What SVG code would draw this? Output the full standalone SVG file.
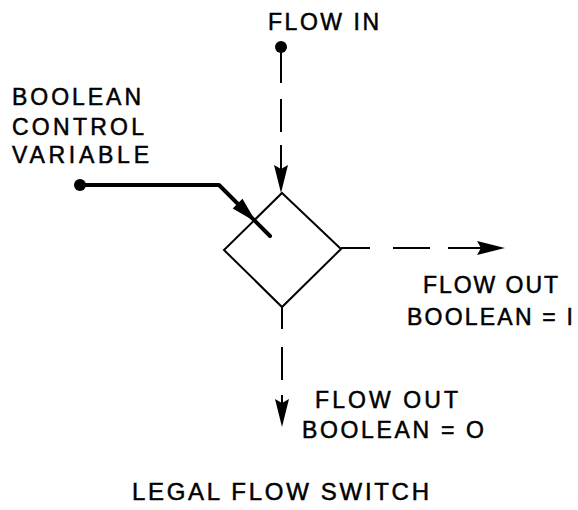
<svg xmlns="http://www.w3.org/2000/svg" width="578" height="510" viewBox="0 0 578 510">
<style>
.t{font-family:"Liberation Sans",Arial,sans-serif;font-size:23px;fill:#000;stroke:#000;stroke-width:0.5}
.flow{stroke:#000;stroke-width:2;fill:none}
.ctl{stroke:#000;stroke-width:4;fill:none;stroke-linejoin:round;stroke-linecap:round}
.node{stroke:#000;stroke-width:2;fill:#fff}
</style>
<defs>
<marker id="ah" markerUnits="userSpaceOnUse" markerWidth="30" markerHeight="16" refX="14" refY="8" orient="auto">
<path d="M0,1 L28,8 L0,15 L4,8 z" fill="#000"/>
</marker>
</defs>
<rect width="578" height="510" fill="#fff"/>
<g id="switch">
<polygon class="node" points="282,193 341,249 282,307 224,250"/>
</g>
<g id="connectors">
<line class="flow" x1="281" y1="48" x2="281" y2="83"/>
<line class="flow" x1="281" y1="99" x2="281" y2="132"/>
<line class="flow" x1="281" y1="145" x2="281" y2="179" marker-end="url(#ah)"/>
<line class="flow" x1="282" y1="307" x2="282" y2="329"/>
<line class="flow" x1="282" y1="347" x2="282" y2="380"/>
<line class="flow" x1="282" y1="395" x2="282" y2="413" marker-end="url(#ah)"/>
<line class="flow" x1="341" y1="248" x2="370" y2="248"/>
<line class="flow" x1="393" y1="248" x2="430" y2="248"/>
<line class="flow" x1="448" y1="248" x2="491" y2="248" marker-end="url(#ah)"/>
<circle cx="281" cy="47" r="6" fill="#000"/>
<circle cx="80" cy="185" r="6" fill="#000"/>
<polyline class="ctl" points="80,185 219,185 270,236"/>
<polygon points="256,222 242.5,198.7 237.6,203.6 232.7,208.5" fill="#000"/>
</g>
<g id="labels">
<text class="t" x="268" y="30" textLength="111" lengthAdjust="spacing">FLOW IN</text>
<text class="t" x="12" y="105" textLength="129" lengthAdjust="spacing">BOOLEAN</text>
<text class="t" x="12" y="135" textLength="132" lengthAdjust="spacing">CONTROL</text>
<text class="t" x="12" y="163" textLength="137" lengthAdjust="spacing">VARIABLE</text>
<text class="t" x="423" y="293" textLength="135" lengthAdjust="spacing">FLOW OUT</text>
<text class="t" x="407" y="325" textLength="166" lengthAdjust="spacing">BOOLEAN = I</text>
<text class="t" x="315" y="408" textLength="143" lengthAdjust="spacing">FLOW OUT</text>
<text class="t" x="302" y="438" textLength="182" lengthAdjust="spacing">BOOLEAN = O</text>
<text class="t" x="132" y="500" style="font-size:24px" textLength="297" lengthAdjust="spacing">LEGAL FLOW SWITCH</text>
</g>
</svg>
